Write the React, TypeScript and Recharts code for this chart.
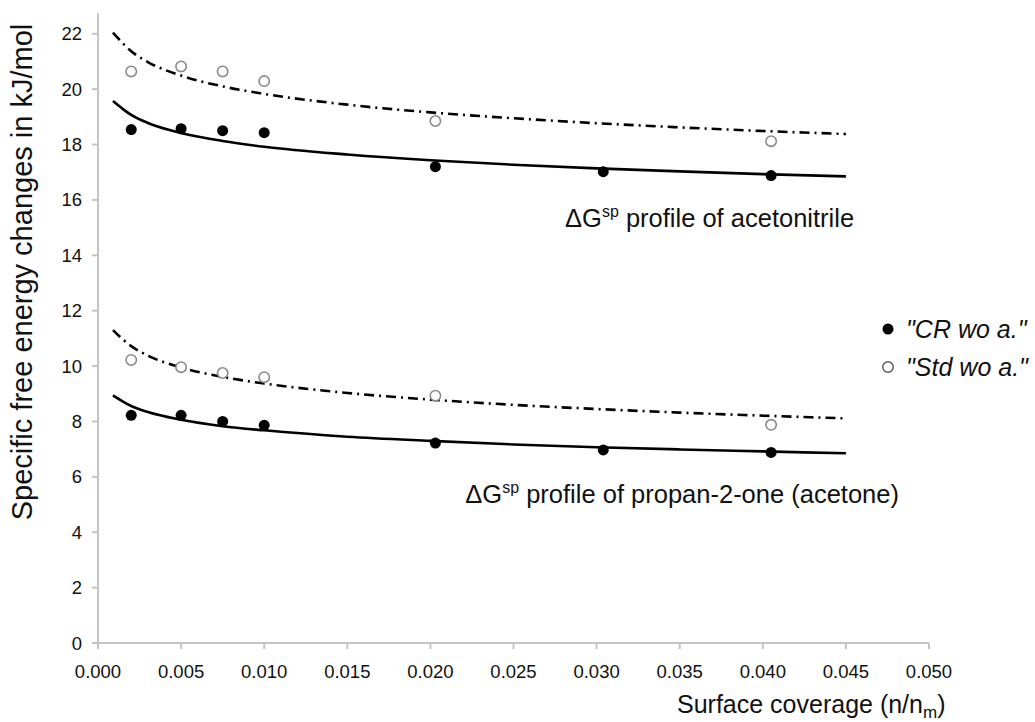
import React from 'react';
import {
  ComposedChart, Line, Scatter, XAxis, YAxis, Legend, ReferenceDot,
} from 'recharts';

// x positions of the fitted trend curves
const fitX = [0.0009, 0.0015, 0.002, 0.003, 0.005, 0.0075, 0.010, 0.015, 0.020, 0.025, 0.030, 0.035, 0.040, 0.045];
// trend curves
const acnCRFit = [19.57, 19.28, 19.07, 18.78, 18.42, 18.13, 17.92, 17.64, 17.43, 17.27, 17.14, 17.03, 16.93, 16.85];
const acnStdFit = [22.04, 21.65, 21.37, 20.98, 20.49, 20.10, 19.83, 19.44, 19.16, 18.95, 18.77, 18.62, 18.49, 18.38];
const acetCRFit = [8.94, 8.72, 8.56, 8.34, 8.06, 7.83, 7.68, 7.45, 7.30, 7.17, 7.07, 6.99, 6.92, 6.85];
const acetStdFit = [11.30, 10.96, 10.72, 10.38, 9.95, 9.61, 9.37, 9.03, 8.79, 8.60, 8.45, 8.32, 8.21, 8.11];

// measured points
const crX = [0.002, 0.005, 0.0075, 0.010, 0.0203, 0.0304, 0.0405];
const stdX = [0.002, 0.005, 0.0075, 0.010, 0.0203, 0.0405];
const acnCR = [18.54, 18.57, 18.5, 18.43, 17.2, 17.02, 16.88];
const acnStd = [20.64, 20.82, 20.64, 20.29, 18.85, 18.12];
const acetCR = [8.22, 8.22, 8.0, 7.86, 7.22, 6.97, 6.88];
const acetStd = [10.22, 9.96, 9.75, 9.6, 8.93, 7.88];

const xTicks = [0, 0.005, 0.01, 0.015, 0.02, 0.025, 0.03, 0.035, 0.04, 0.045, 0.05];
const yTicks = [0, 2, 4, 6, 8, 10, 12, 14, 16, 18, 20, 22];
const legendNames = ['"CR wo a."', '"Std wo a."'];

const FONT = "'Liberation Sans', Arial, sans-serif";

const toPts = (xs: number[], ys: number[]) => xs.map((x, i) => ({ x, y: ys[i] }));

const FilledDot = (p: any) => <circle cx={p.cx} cy={p.cy} r={5.5} fill="#000" />;
const OpenDot = (p: any) => (
  <circle cx={p.cx} cy={p.cy} r={5.2} fill="#fff" stroke="#8a8a8a" strokeWidth={1.6} />
);

const annot = (label: string) => (p: any) => (
  <text x={p.cx} y={p.cy} fontFamily={FONT} fontSize={25.5} fill="#111">
    <tspan>ΔG</tspan>
    <tspan fontSize={16} dy={-10}>sp</tspan>
    <tspan dy={10}>{' ' + label}</tspan>
  </text>
);

const LegendContent = () => (
  <div style={{ fontFamily: FONT, fontSize: 25, fontStyle: 'italic', color: '#111' }}>
    {legendNames.map((n, i) => (
      <div key={n} style={{ display: 'flex', alignItems: 'center', height: 38, whiteSpace: 'nowrap' }}>
        <svg width={14} height={14} style={{ marginRight: 11 }}>
          {i === 0 ? (
            <circle cx={7} cy={7} r={5.5} fill="#000" />
          ) : (
            <circle cx={7} cy={7} r={5.2} fill="#fff" stroke="#555" strokeWidth={1.4} />
          )}
        </svg>
        <span>{n}</span>
      </div>
    ))}
  </div>
);

const XTitle = () => (
  <text x={677} y={713} fontFamily={FONT} fontSize={25} fill="#111">
    <tspan>Surface coverage (n/n</tspan>
    <tspan fontSize={17} dy={5}>m</tspan>
    <tspan dy={-5}>)</tspan>
  </text>
);

const YTitle = () => (
  <text
    x={32}
    y={272}
    transform="rotate(-90, 32, 272)"
    textAnchor="middle"
    fontFamily={FONT}
    fontSize={29}
    fill="#111"
  >
    Specific free energy changes in kJ/mol
  </text>
);

export default function App() {
  return (
    <div style={{ position: 'absolute', left: 0, top: 0, width: 1035, height: 722, background: '#fff' }}>
      <ComposedChart
        width={1035}
        height={722}
        margin={{ top: 13, right: 106, bottom: 19, left: 38 }}
      >
        <XAxis
          type="number"
          dataKey="x"
          domain={[0, 0.05]}
          ticks={xTicks}
          tickFormatter={(v: number) => v.toFixed(3)}
          axisLine={{ stroke: '#c4c4c4', strokeWidth: 2 }}
          tickLine={{ stroke: '#c4c4c4', strokeWidth: 2 }}
          tickSize={6}
          tickMargin={16}
          tick={{ fill: '#111', fontSize: 18.5, fontFamily: FONT }}
          height={60}
          interval={0}
          allowDataOverflow
          label={{ content: () => <XTitle /> }}
        />
        <YAxis
          type="number"
          dataKey="y"
          domain={[0, 22.75]}
          ticks={yTicks}
          axisLine={{ stroke: '#c4c4c4', strokeWidth: 2 }}
          tickLine={{ stroke: '#c4c4c4', strokeWidth: 2 }}
          tickSize={6}
          tickMargin={10}
          tick={{ fill: '#111', fontSize: 18.5, fontFamily: FONT }}
          width={60}
          interval={0}
          allowDataOverflow
          label={{ content: () => <YTitle /> }}
        />
        <Line data={toPts(fitX, acnCRFit)} dataKey="y" type="monotone" stroke="#000" strokeWidth={2.6} dot={false} isAnimationActive={false} legendType="none" />
        <Line data={toPts(fitX, acnStdFit)} dataKey="y" type="monotone" stroke="#000" strokeWidth={2.6} strokeDasharray="10 5 2 5" dot={false} isAnimationActive={false} legendType="none" />
        <Line data={toPts(fitX, acetCRFit)} dataKey="y" type="monotone" stroke="#000" strokeWidth={2.6} dot={false} isAnimationActive={false} legendType="none" />
        <Line data={toPts(fitX, acetStdFit)} dataKey="y" type="monotone" stroke="#000" strokeWidth={2.6} strokeDasharray="10 5 2 5" dot={false} isAnimationActive={false} legendType="none" />
        <Scatter name={legendNames[0]} data={toPts(crX, acnCR)} dataKey="y" shape={<FilledDot />} isAnimationActive={false} />
        <Scatter name={legendNames[1]} data={toPts(stdX, acnStd)} dataKey="y" shape={<OpenDot />} isAnimationActive={false} />
        <Scatter data={toPts(crX, acetCR)} dataKey="y" shape={<FilledDot />} isAnimationActive={false} legendType="none" />
        <Scatter data={toPts(stdX, acetStd)} dataKey="y" shape={<OpenDot />} isAnimationActive={false} legendType="none" />
        <ReferenceDot x={0.0281} y={15.02} r={0} shape={annot('profile of acetonitrile')} />
        <ReferenceDot x={0.0221} y={5.05} r={0} shape={annot('profile of propan-2-one (acetone)')} />
        <Legend
          layout="horizontal"
          verticalAlign="middle"
          align="center"
          content={<LegendContent />}
          wrapperStyle={{ position: 'absolute', left: 881, top: 310, width: 160 }}
        />
      </ComposedChart>
    </div>
  );
}
